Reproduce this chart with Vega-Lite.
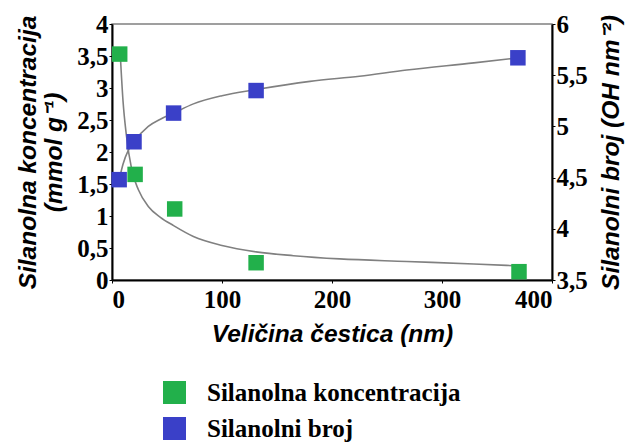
{
  "$schema": "https://vega.github.io/schema/vega-lite/v6.json",
  "width": 440,
  "height": 256,
  "autosize": {"type": "none"},
  "padding": {"left": 112, "top": 24, "right": 78, "bottom": 163},
  "background": "white",
  "config": {
    "view": {"stroke": "#808080", "strokeWidth": 1.5},
    "axis": {
      "labelFont": "Liberation Serif",
      "labelFontWeight": "bold",
      "labelFontSize": 25,
      "labelColor": "black",
      "titleFont": "Liberation Sans",
      "titleFontStyle": "italic",
      "titleFontWeight": "bold",
      "titleFontSize": 24.5,
      "titleColor": "black",
      "domainColor": "black",
      "domainWidth": 2,
      "tickColor": "black",
      "tickSize": 3,
      "grid": false,
      "labelPadding": 1
    },
    "legend": {
      "labelFont": "Liberation Serif",
      "labelFontWeight": "bold",
      "labelFontSize": 25,
      "labelColor": "black",
      "labelLimit": 0
    }
  },
  "datasets": {
    "points": [
      {"size_nm": 7, "value": 3.53, "series": "Silanolna koncentracija"},
      {"size_nm": 21, "value": 1.65, "series": "Silanolna koncentracija"},
      {"size_nm": 57, "value": 1.11, "series": "Silanolna koncentracija"},
      {"size_nm": 131, "value": 0.27, "series": "Silanolna koncentracija"},
      {"size_nm": 370, "value": 0.13, "series": "Silanolna koncentracija"},
      {"size_nm": 6.5, "value": 4.48, "series": "Silanolni broj"},
      {"size_nm": 20, "value": 4.85, "series": "Silanolni broj"},
      {"size_nm": 56, "value": 5.13, "series": "Silanolni broj"},
      {"size_nm": 131, "value": 5.35, "series": "Silanolni broj"},
      {"size_nm": 369, "value": 5.67, "series": "Silanolni broj"}
    ],
    "curves": [
      {"size_nm": 7.5, "value": 3.53, "series": "Silanolna koncentracija"},
      {"size_nm": 10, "value": 2.8, "series": "Silanolna koncentracija"},
      {"size_nm": 13, "value": 2.27, "series": "Silanolna koncentracija"},
      {"size_nm": 18, "value": 1.72, "series": "Silanolna koncentracija"},
      {"size_nm": 24, "value": 1.41, "series": "Silanolna koncentracija"},
      {"size_nm": 33, "value": 1.15, "series": "Silanolna koncentracija"},
      {"size_nm": 44, "value": 0.98, "series": "Silanolna koncentracija"},
      {"size_nm": 56, "value": 0.85, "series": "Silanolna koncentracija"},
      {"size_nm": 74, "value": 0.68, "series": "Silanolna koncentracija"},
      {"size_nm": 100, "value": 0.54, "series": "Silanolna koncentracija"},
      {"size_nm": 131, "value": 0.44, "series": "Silanolna koncentracija"},
      {"size_nm": 165, "value": 0.38, "series": "Silanolna koncentracija"},
      {"size_nm": 207, "value": 0.33, "series": "Silanolna koncentracija"},
      {"size_nm": 268, "value": 0.29, "series": "Silanolna koncentracija"},
      {"size_nm": 329, "value": 0.25, "series": "Silanolna koncentracija"},
      {"size_nm": 370, "value": 0.22, "series": "Silanolna koncentracija"},
      {"size_nm": 7, "value": 4.5, "series": "Silanolni broj"},
      {"size_nm": 10, "value": 4.63, "series": "Silanolni broj"},
      {"size_nm": 15, "value": 4.77, "series": "Silanolni broj"},
      {"size_nm": 20, "value": 4.85, "series": "Silanolni broj"},
      {"size_nm": 33, "value": 5.0, "series": "Silanolni broj"},
      {"size_nm": 44, "value": 5.07, "series": "Silanolni broj"},
      {"size_nm": 56, "value": 5.13, "series": "Silanolni broj"},
      {"size_nm": 74, "value": 5.22, "series": "Silanolni broj"},
      {"size_nm": 100, "value": 5.3, "series": "Silanolni broj"},
      {"size_nm": 131, "value": 5.36, "series": "Silanolni broj"},
      {"size_nm": 180, "value": 5.44, "series": "Silanolni broj"},
      {"size_nm": 225, "value": 5.49, "series": "Silanolni broj"},
      {"size_nm": 268, "value": 5.55, "series": "Silanolni broj"},
      {"size_nm": 329, "value": 5.62, "series": "Silanolni broj"},
      {"size_nm": 370, "value": 5.67, "series": "Silanolni broj"}
    ]
  },
  "encoding": {
    "x": {
      "field": "size_nm",
      "type": "quantitative",
      "scale": {"domain": [0, 400], "nice": false},
      "axis": {
        "values": [0, 100, 200, 300, 400],
        "title": "Veličina čestica (nm)",
        "labelPadding": 4,
        "titlePadding": 10
      }
    }
  },
  "layer": [
    {
      "encoding": {
        "y": {
          "field": "value",
          "type": "quantitative",
          "scale": {"domain": [0, 4], "nice": false, "zero": false},
          "axis": {
            "orient": "left",
            "values": [0, 0.5, 1, 1.5, 2, 2.5, 3, 3.5, 4],
            "labelExpr": "replace(format(datum.value, '~g'), '.', ',')",
            "title": ["Silanolna koncentracija", "(mmol g⁻¹)"],
            "titleLineHeight": 26,
            "titlePadding": 10
          }
        }
      },
      "layer": [
        {
          "data": {"name": "curves"},
          "transform": [{"filter": "datum.series === 'Silanolna koncentracija'"}],
          "mark": {"type": "line", "color": "#808080", "strokeWidth": 1.6, "interpolate": "monotone"}
        },
        {
          "data": {"name": "points"},
          "transform": [{"filter": "datum.series === 'Silanolna koncentracija'"}],
          "mark": {"type": "point", "shape": "square", "filled": true, "size": 240, "opacity": 1},
          "encoding": {
            "color": {
              "field": "series",
              "type": "nominal",
              "scale": {"domain": ["Silanolna koncentracija", "Silanolni broj"], "range": ["#22b04b", "#3a40c8"]},
              "legend": {
                "title": null,
                "orient": "none",
                "legendX": 50,
                "legendY": 356,
                "padding": 0,
                "symbolType": "square",
                "symbolSize": 529,
                "symbolStrokeWidth": 0,
                "symbolOpacity": 1,
                "labelOffset": 20,
                "rowPadding": 10
              }
            }
          }
        }
      ]
    },
    {
      "encoding": {
        "y": {
          "field": "value",
          "type": "quantitative",
          "scale": {"domain": [3.5, 6], "nice": false, "zero": false},
          "axis": {
            "orient": "right",
            "values": [3.5, 4, 4.5, 5, 5.5, 6],
            "labelExpr": "replace(format(datum.value, '~g'), '.', ',')",
            "title": "Silanolni broj (OH nm⁻²)",
            "titleAngle": 270,
            "titleBaseline": "top",
            "titlePadding": 12
          }
        }
      },
      "layer": [
        {
          "data": {"name": "curves"},
          "transform": [{"filter": "datum.series === 'Silanolni broj'"}],
          "mark": {"type": "line", "color": "#808080", "strokeWidth": 1.6, "interpolate": "monotone"}
        },
        {
          "data": {"name": "points"},
          "transform": [{"filter": "datum.series === 'Silanolni broj'"}],
          "mark": {"type": "point", "shape": "square", "filled": true, "size": 240, "opacity": 1},
          "encoding": {
            "color": {
              "field": "series",
              "type": "nominal",
              "scale": {"domain": ["Silanolna koncentracija", "Silanolni broj"], "range": ["#22b04b", "#3a40c8"]}
            }
          }
        }
      ]
    }
  ],
  "resolve": {"scale": {"y": "independent"}}
}
